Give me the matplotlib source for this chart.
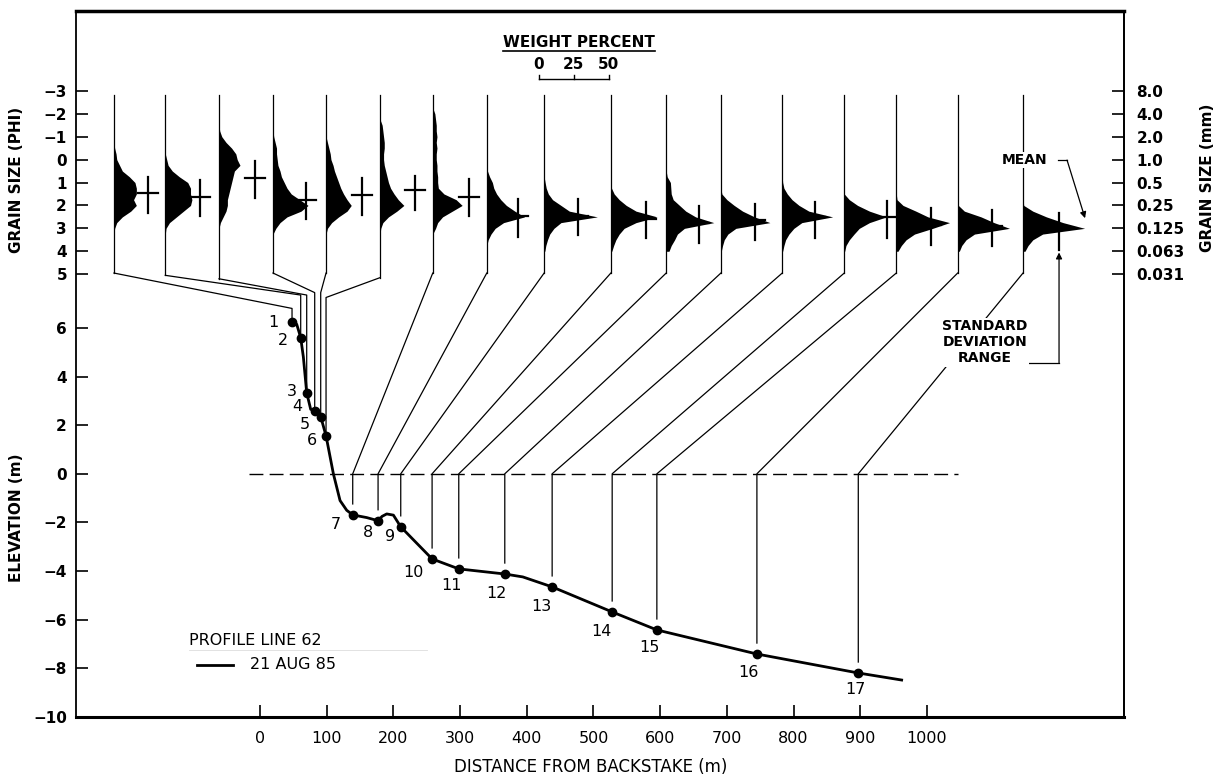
import numpy as np
import matplotlib.pyplot as plt

plt.rcParams['font.family'] = 'DejaVu Sans'
plt.rcParams['font.weight'] = 'bold'
plt.rcParams['font.size'] = 11

# profile line 62, 21 aug 85 (distance from backstake in m, elevation in m)
profile_dist = [48, 55, 61, 65, 70, 76, 82, 91, 99, 110, 120, 130, 139, 160, 177,
                183, 190, 200, 211, 258, 298, 367, 394, 438, 528, 595, 745, 897, 962]
profile_elev = [6.25, 6.15, 5.6, 4.8, 3.33, 2.65, 2.6, 2.35, 1.56, 0.0, -1.1, -1.5, -1.69, -1.8, -1.93,
                -1.75, -1.65, -1.7, -2.18, -3.5, -3.91, -4.12, -4.24, -4.65, -5.68, -6.42, -7.41, -8.19, -8.48]

# sediment samples along the profile
sample_ids = list(range(1, 18))
sample_dist = [48, 61, 70, 82, 91, 99, 139, 177, 211, 258, 298, 367, 438, 528, 595, 745, 897]
sample_elev = [6.25, 5.6, 3.33, 2.6, 2.35, 1.56, -1.69, -1.93, -2.18, -3.5, -3.91, -4.12,
               -4.65, -5.68, -6.42, -7.41, -8.19]

# grain size statistics (phi)
mean_phi = [1.45, 1.65, 0.82, 1.77, 1.55, 1.33, 1.62, 2.47, 2.47, 2.61, 2.76, 2.64, 2.5, 2.5, 2.86, 2.9, 3.0]
sd_low = [0.75, 0.9, 0.07, 1.03, 0.81, 0.7, 0.85, 1.7, 1.74, 1.84, 2.03, 1.94, 1.84, 1.8, 2.1, 2.18, 2.32]
sd_high = [2.32, 2.47, 1.68, 2.6, 2.42, 2.22, 2.47, 3.37, 3.3, 3.44, 3.63, 3.52, 3.44, 3.44, 3.73, 3.76, 3.95]

# weight percent per quarter phi class
phi_classes = [-2.25, -2.0, -1.75, -1.5, -1.25, -1.0, -0.75, -0.5, -0.25, 0.0, 0.25, 0.5, 0.75,
               1.0, 1.25, 1.5, 1.75, 2.0, 2.25, 2.5, 2.75, 3.0, 3.25, 3.5, 3.75, 4.0]
weight_pct = [
    [0, 0, 0, 0, 0, 0, 0, 0.5, 1.5, 2, 4, 6, 11, 15, 16, 16, 14, 16, 12, 6, 2, 0.5, 0, 0, 0, 0],
    [0, 0, 0, 0, 0, 0, 0, 0, 0, 1, 2, 5, 10, 16, 18, 18, 19, 18, 13, 8, 3, 0.5, 0, 0, 0, 0],
    [0, 0, 0, 0, 0.5, 2, 5, 9, 12, 13, 15, 11, 10, 9, 8, 7, 6, 6, 5, 3, 1, 0, 0, 0, 0, 0],
    [0, 0, 0, 0, 0, 0.5, 1.5, 2.5, 2.5, 3, 3.5, 5, 6, 8, 10, 13, 19, 25, 20, 10, 5, 2, 0, 0, 0, 0],
    [0, 0, 0, 0, 0, 0, 1, 2, 3, 3.5, 5, 6, 7.5, 9, 10.5, 12.5, 15, 18, 15, 9, 4, 1, 0, 0, 0, 0],
    [0, 0, 0, 1.5, 2, 2.5, 3, 3, 2.5, 2.5, 3, 4, 5, 6, 7.5, 10, 13, 17, 12, 6, 2, 0.5, 0, 0, 0, 0],
    [0, 1.5, 2, 2.5, 2.5, 3, 2.5, 3, 2.5, 2.5, 3, 3, 3.5, 3.5, 4, 8, 16.7, 21, 14, 7, 3.5, 2, 0, 0, 0, 0],
    [0, 0, 0, 0, 0, 0, 0, 0, 0, 0, 0, 0.5, 2, 4, 5, 7, 10, 14, 20, 27, 12, 6, 3, 1, 0, 0],
    [0, 0, 0, 0, 0, 0, 0, 0, 0, 0, 0, 0, 0, 0.7, 1.5, 3, 6, 12, 18, 38, 12, 7, 4, 2.4, 1.2, 0.5],
    [0, 0, 0, 0, 0, 0, 0, 0, 0, 0, 0, 0, 0, 0, 0.5, 2.4, 6, 11, 18, 33, 18, 9.5, 6, 3.6, 2, 0.7],
    [0, 0, 0, 0, 0, 0, 0, 0, 0, 0, 0, 0, 0.7, 3, 3.3, 3.6, 5, 9.5, 14, 21, 34, 13, 8, 6, 3.6, 2],
    [0, 0, 0, 0, 0, 0, 0, 0, 0, 0, 0, 0, 0, 0, 0, 0.7, 4.3, 9.5, 15.5, 24, 35, 10.7, 5, 2.4, 1.2, 0.3],
    [0, 0, 0, 0, 0, 0, 0, 0, 0, 0, 0, 0, 0, 0.3, 1.2, 3.6, 7, 12, 19, 36, 14, 8.3, 4.8, 2.4, 1.2, 0.3],
    [0, 0, 0, 0, 0, 0, 0, 0, 0, 0, 0, 0, 0, 0, 0, 0, 3.6, 9.5, 18, 30, 18, 10.7, 7, 3.6, 1.2, 0.3],
    [0, 0, 0, 0, 0, 0, 0, 0, 0, 0, 0, 0, 0, 0, 0, 0, 0.5, 4.8, 14, 22.6, 38, 26, 13, 7, 3.6, 1.2],
    [0, 0, 0, 0, 0, 0, 0, 0, 0, 0, 0, 0, 0, 0, 0, 0, 0, 0.5, 4.8, 16.7, 26, 37, 12, 6, 2.9, 1.2],
    [0, 0, 0, 0, 0, 0, 0, 0, 0, 0, 0, 0, 0, 0, 0, 0, 0, 0.5, 7, 16.7, 28.6, 44, 14, 7, 3.6, 1.4],
]

elev_ticks = [-10, -8, -6, -4, -2, 0, 2, 4, 6]
phi_ticks = [-3, -2, -1, 0, 1, 2, 3, 4, 5]
mm_labels = ['8.0', '4.0', '2.0', '1.0', '0.5', '0.25', '0.125', '0.063', '0.031']
dist_ticks = [0, 100, 200, 300, 400, 500, 600, 700, 800, 900, 1000]

# layout of the histogram strip (distance units)
hist_x = [-219, -142, -61.5, 19.5, 99, 180, 259, 340, 426, 526, 609, 691, 783, 876, 954, 1046, 1144]
hist_bottom_phi = [4.95, 5.05, 5.2, 4.95, 4.95, 5.15] + [4.95] * 11
hist_top_phi = -2.8
cross_offset = [24.3, 25, 25.7, 23.6, 25.7, 25, 25.7, 22.1, 24.3, 25, 23.6, 24.3, 23.6, 30.7, 25, 24.3, 25.7]
kink_elev = [6.8, 7.35, 7.35, 7.45, 7.45, 7.25]
label_offset_px = [(-19, 1), (-18, 3), (-15, -1), (-17, -4), (-16, 8), (-14, 5), (-17, 10), (-10, 12),
                   (-11, 10), (-19, 14), (-7, 17), (-8, 19), (-11, 20), (-11, 20), (-7, 18), (-8, 18), (-3, 17)]
WP_SCALE = 2.1  # metres of x axis per weight percent


def phi_to_elev(phi):
    # the grain size strip sits above the profile on the same axes
    return 12.92 - 0.9424 * np.asarray(phi, dtype=float)


fig = plt.figure(figsize=(12.25, 7.78), dpi=100)
ax = fig.add_axes([76 / 1225, 61 / 778, 1048 / 1225, 706 / 778])
ax.set_xlim(-275.9, 1295.4)
ax.set_ylim(-10, 19.03)

# histograms, baselines and mean / sd crosses
for i in range(len(sample_ids)):
    x0 = hist_x[i]
    ys = phi_to_elev(phi_classes)
    ax.fill_betweenx(ys, x0, x0 + np.array(weight_pct[i]) * WP_SCALE, color='black', lw=0)
    ax.plot([x0, x0], phi_to_elev([hist_top_phi, hist_bottom_phi[i]]), color='black', lw=0.9)

    xc = x0 + cross_offset[i] * WP_SCALE
    ax.plot([xc, xc], phi_to_elev([sd_low[i], sd_high[i]]), color='black', lw=1.6)
    ax.plot([xc - 15, xc + 15], phi_to_elev([mean_phi[i], mean_phi[i]]), color='black', lw=1.6)

    # leader from the histogram down to the sample
    y_bot = float(phi_to_elev(hist_bottom_phi[i]))
    xs = [x0, sample_dist[i], sample_dist[i]]
    if i < 6:
        ys_l = [y_bot, kink_elev[i], sample_elev[i]]
    else:
        ys_l = [y_bot, 0, sample_elev[i] + 0.45]
    ax.plot(xs, ys_l, color='black', lw=0.9)

# mean sea level
ax.plot([-16, 1046], [0, 0], color='black', lw=1, dashes=(10, 4.5))

# profile and samples
ax.plot(profile_dist, profile_elev, color='black', lw=2)
ax.plot(sample_dist, sample_elev, 'o', color='black', ms=6)
for i, n in enumerate(sample_ids):
    dx, dy = label_offset_px[i]
    ax.annotate(str(n), (sample_dist[i], sample_elev[i]), xytext=(dx * 0.72, -dy * 0.72),
                textcoords='offset points', ha='center', va='center', fontsize=11.5, fontweight='normal')

# weight percent scale
ax.text(478, 17.72, 'WEIGHT PERCENT', ha='center', va='center', fontsize=11)
ax.plot([364, 592], [17.39, 17.39], color='black', lw=1.2)
bar_x0 = 418
for wp in [0, 25, 50]:
    ax.text(bar_x0 + wp * WP_SCALE, 16.81, str(wp), ha='center', va='center', fontsize=11)
    ax.plot([bar_x0 + wp * WP_SCALE] * 2, [16.23, 16.4], color='black', lw=1)
ax.plot([bar_x0, bar_x0 + 50 * WP_SCALE], [16.23, 16.23], color='black', lw=1)

# annotations for the last histogram
ax.text(1147, 12.9, 'MEAN', ha='center', va='center', fontsize=10,
        bbox=dict(facecolor='white', edgecolor='none', pad=1))
ax.plot([1196, 1210], [12.9, 12.9], color='black', lw=0.9)
ax.annotate('', xy=(1237, 10.51), xytext=(1210, 12.9),
            arrowprops=dict(arrowstyle='-|>', color='black', lw=0.9, mutation_scale=9, shrinkA=0, shrinkB=0))
ax.text(1087, 5.41, 'STANDARD\nDEVIATION\nRANGE', ha='center', va='center', fontsize=10,
        linespacing=1.2, bbox=dict(facecolor='white', edgecolor='none', pad=1))
ax.plot([1136.5, 1198], [4.55, 4.55], color='black', lw=0.9)
ax.annotate('', xy=(1198, 9.1), xytext=(1198, 4.55),
            arrowprops=dict(arrowstyle='-|>', color='black', lw=0.9, mutation_scale=9, shrinkA=0, shrinkB=0))

# legend
ax.text(-106, -6.87, 'PROFILE LINE 62', ha='left', va='center', fontsize=11.5, fontweight='normal')
ax.plot([-106, 250], [-7.24, -7.24], color='#dddddd', lw=0.6)
ax.plot([-94, -40], [-7.86, -7.86], color='black', lw=2)
ax.text(-15, -7.86, '21 AUG 85', ha='left', va='center', fontsize=11.5, fontweight='normal')

# axes, ticks and labels
left_pos = list(elev_ticks) + list(phi_to_elev(phi_ticks))
left_lab = [str(v).replace('-', '\u2212') for v in elev_ticks] + \
           [str(v).replace('-', '\u2212') for v in phi_ticks]
ax.set_yticks(left_pos, left_lab)
ax.set_xticks(dist_ticks, [str(v) for v in dist_ticks])
for lab in ax.get_xticklabels():
    lab.set_fontweight('normal')
ax.tick_params(axis='y', direction='in', length=8.5, width=1.2, pad=6.5, labelsize=11)
ax.tick_params(axis='x', direction='in', length=9, width=1.2, pad=10, labelsize=11.5)

sec = ax.secondary_yaxis('right')
sec.set_yticks(list(phi_to_elev(phi_ticks)), mm_labels)
sec.tick_params(direction='in', length=8.5, width=1.2, pad=9, labelsize=11)
sec.spines['right'].set_linewidth(1.3)

ax.spines['top'].set_linewidth(2.5)
ax.spines['bottom'].set_linewidth(2.2)
ax.spines['left'].set_linewidth(1.3)
ax.spines['right'].set_linewidth(1.3)

fig.text(591 / 1225, 1 - 767 / 778, 'DISTANCE FROM BACKSTAKE (m)', ha='center', va='center',
         fontsize=12, fontweight='normal')
fig.text(17 / 1225, 1 - 518 / 778, 'ELEVATION (m)', ha='center', va='center', rotation=90, fontsize=11)
fig.text(17 / 1225, 1 - 180 / 778, 'GRAIN SIZE (PHI)', ha='center', va='center', rotation=90, fontsize=11)
fig.text(1208 / 1225, 1 - 178 / 778, 'GRAIN SIZE (mm)', ha='center', va='center', rotation=90, fontsize=11)

fig.savefig('out.png', dpi=100)
